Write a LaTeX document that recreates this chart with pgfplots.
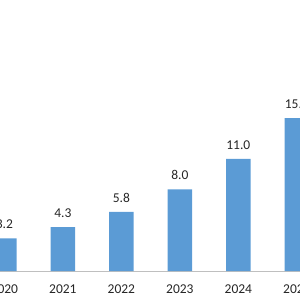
\documentclass[border=0pt]{standalone}
\usepackage{pgfplots}
\pgfplotsset{compat=1.18}
\usepackage{fontspec}
\setmainfont{Carlito}
\definecolor{barblue}{RGB}{91,155,213}
\begin{document}
\begin{tikzpicture}
\useasboundingbox (0,0) rectangle (300pt,300pt);
\clip (0,0) rectangle (300pt,300pt);
\begin{axis}[
  at={(0,0)}, anchor=south west,
  scale only axis, width=300pt, height=300pt,
  xmin=-0.0744, xmax=5.054, ymin=-2.84, ymax=26.57,
  axis x line=middle, axis y line=none,
  x axis line style={draw=black!25, -},
  xtick={0,1,2,3,4,5},
  xticklabels={2020,2021,2022,2023,2024,2025},
  major tick length=0pt,
  ytick=\empty,
  xticklabel style={font=\fontsize{13.5}{16}\selectfont, text=black!85, anchor=north, yshift=-10pt},
  /pgf/number format/assume math mode=true,
  /pgf/number format/fixed,
  /pgf/number format/fixed zerofill,
  /pgf/number format/precision=1,
  clip=false,
]
\addplot[ybar, bar width=24.5pt, fill=barblue, draw=none,
  nodes near coords,
  nodes near coords style={font=\fontsize{13.5}{16}\selectfont, text=black!85, yshift=6pt}]
  coordinates {(0,3.2) (1,4.3) (2,5.8) (3,8.0) (4,11.0) (5,15.0)};
\end{axis}
\end{tikzpicture}
\end{document}
